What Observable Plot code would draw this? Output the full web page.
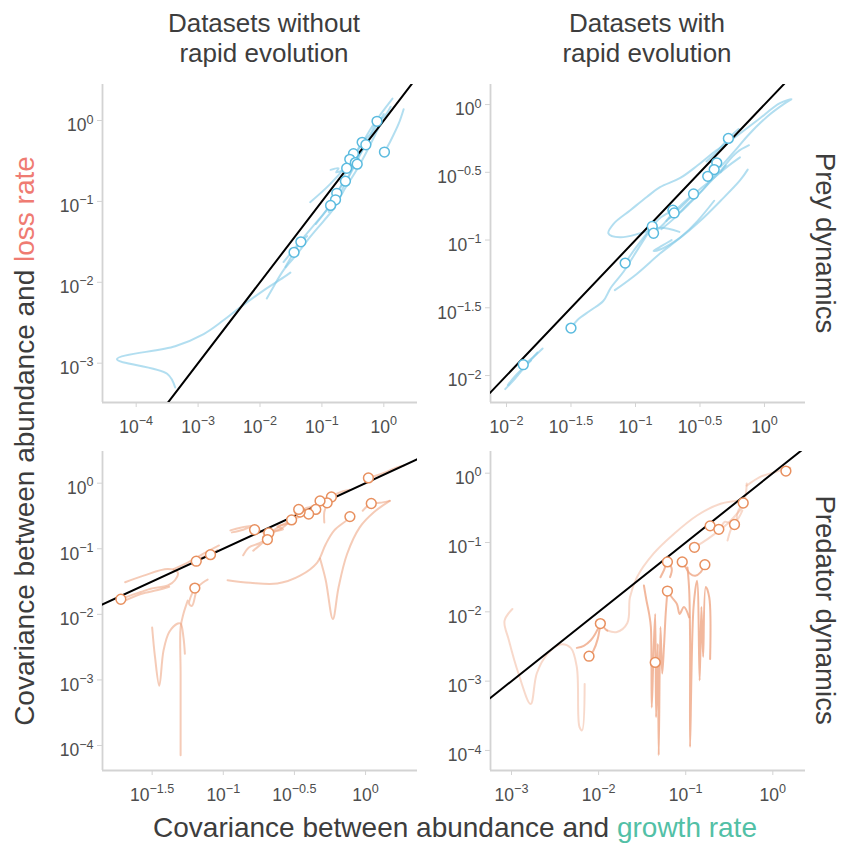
<!DOCTYPE html>
<html><head><meta charset="utf-8">
<script src="https://cdn.jsdelivr.net/npm/d3@7"></script>
<script src="https://cdn.jsdelivr.net/npm/@observablehq/plot@0.6"></script>
<style>
body{margin:0;background:#fff;}
#chart{position:relative;width:844px;height:844px;background:#fff;font-family:"Liberation Sans",Helvetica,Arial,sans-serif;}
#chart svg{position:absolute;left:0;top:0;}
</style></head><body><div id="chart"></div>
<script>
// ---- DATA (log10 values) ----
const oneToOne = [[-6, -6], [2, 2]];

// Prey dynamics, datasets without rapid evolution
const preyNoEvoPaths = [
  [[-3.37,-3.30],[-3.50,-3.13],[-4.31,-2.95],[-3.37,-2.79],[-2.91,-2.64],[-2.59,-2.47],[-2.32,-2.31],[-1.94,-2.10],[-1.62,-1.94],[-1.51,-1.88]],
  [[-1.19,-1.01],[-0.86,-0.78],[-0.49,-0.45],[-0.16,-0.04],[0.14,0.27]],
  [[0.01,-0.39],[0.11,-0.25],[0.24,-0.04],[0.32,0.14]],
  [[-1.89,-2.20],[-1.80,-2.08],[-1.62,-1.85],[-1.40,-1.65],[-1.19,-1.44],[-0.97,-1.24],[-0.81,-1.09],[-0.65,-0.87],[-0.43,-0.60],[-0.24,-0.33],[-0.08,-0.08]],
  [[-1.62,-1.75],[-1.29,-1.44],[-0.97,-1.15],[-0.75,-0.95],[-0.54,-0.66],[-0.32,-0.33],[-0.16,-0.12],[0,0.08]],
  [[-0.86,-0.61],[-0.73,-0.59],[-0.77,-0.64],[-0.62,-0.60]],
  [[-1.59,-1.81],[-1.45,-1.63],[-1.34,-1.50],[-1.24,-1.43]],
  [[-0.89,-1.13],[-0.78,-0.98],[-0.77,-0.90],[-0.70,-0.82],[-0.65,-0.70]],
  [[-0.43,-0.37],[-0.35,-0.27],[-0.22,-0.17],[-0.11,-0.01],[0,0.04],[0.11,0.17]],
  [[-1.10,-1.28],[-0.92,-1.10],[-0.75,-0.88],[-0.58,-0.70],[-0.45,-0.50],[-0.30,-0.30]],
  [[-0.70,-0.75],[-0.60,-0.62],[-0.50,-0.50],[-0.38,-0.40],[-0.28,-0.30]]
];
const preyNoEvoPoints = [[-0.11,-0.01],[-0.35,-0.27],[-0.29,-0.30],[0.01,-0.39],[-0.49,-0.41],[-0.55,-0.48],[-0.46,-0.52],[-0.43,-0.54],[-0.60,-0.59],[-0.62,-0.75],[-0.76,-0.90],[-0.78,-0.98],[-0.86,-1.05],[-1.34,-1.50],[-1.45,-1.63]];

// Prey dynamics, datasets with rapid evolution
const preyEvoPaths = [
  [[-0.66,-0.94],[-0.81,-0.91],[-0.96,-0.95],[-1.12,-0.98],[-1.21,-0.95],[-1.17,-0.88],[-1.04,-0.78],[-0.91,-0.68],[-0.81,-0.61],[-0.65,-0.54],[-0.52,-0.45],[-0.39,-0.35],[-0.24,-0.25],[-0.06,-0.12],[0.12,0.01],[0.21,0.04],[0.16,0.01],[0.02,-0.09],[-0.13,-0.23],[-0.21,-0.32],[-0.34,-0.46]],
  [[-0.72,-1.00],[-0.79,-1.04],[-0.86,-1.08],[-0.81,-1.07],[-0.65,-0.98],[-0.50,-0.86],[-0.34,-0.71],[-0.19,-0.56],[-0.13,-0.48]],
  [[-1.16,-1.37],[-0.99,-1.25],[-0.81,-1.10],[-0.65,-0.98],[-0.52,-0.86],[-0.39,-0.71]],
  [[-1.50,-1.65],[-1.45,-1.59],[-1.35,-1.52],[-1.25,-1.45],[-1.19,-1.35],[-1.09,-1.23],[-0.99,-1.08],[-0.87,-0.90]],
  [[-2.01,-2.10],[-1.94,-2.03],[-1.87,-1.95],[-1.76,-1.83]],
  [[-1.99,-2.07],[-1.92,-1.99],[-1.81,-1.89]],
  [[-0.12,-0.30],[-0.21,-0.35],[-0.29,-0.43],[-0.34,-0.50]],
  [[-0.76,-0.86],[-0.65,-0.76],[-0.52,-0.64],[-0.39,-0.54],[-0.29,-0.46],[-0.19,-0.39]],
  [[-1.08,-1.17],[-1.00,-1.06],[-0.92,-0.96],[-0.87,-0.90],[-0.80,-0.83],[-0.70,-0.78]],
  [[-0.86,-0.95],[-0.78,-0.88],[-0.71,-0.80],[-0.60,-0.70],[-0.55,-0.66]],
  [[-0.80,-0.92],[-0.70,-0.84],[-0.60,-0.74],[-0.50,-0.65],[-0.40,-0.55],[-0.30,-0.45]],
  [[-0.74,-0.84],[-0.66,-0.80],[-0.57,-0.72],[-0.47,-0.62],[-0.37,-0.50]],
  [[-0.45,-0.42],[-0.37,-0.35],[-0.28,-0.25],[-0.20,-0.18]],
  [[-1.87,-1.92],[-1.80,-1.87],[-1.72,-1.80]]
];
const preyEvoPoints = [[-0.28,-0.25],[-0.37,-0.43],[-0.39,-0.48],[-0.44,-0.53],[-0.55,-0.66],[-0.71,-0.78],[-0.70,-0.80],[-0.87,-0.90],[-0.86,-0.95],[-1.08,-1.17],[-1.50,-1.65],[-1.87,-1.92]];

// Predator dynamics, datasets without rapid evolution
const predNoEvoPaths = [
  [[-0.97,-1.48],[-0.81,-1.52],[-0.62,-1.53],[-0.46,-1.41],[-0.34,-1.21],[-0.28,-0.93],[-0.22,-0.72],[-0.13,-0.56],[-0.11,-0.51]],
  [[-0.32,-1.15],[-0.28,-1.48],[-0.23,-2.07],[-0.19,-1.59],[-0.13,-1.08],[-0.04,-0.67],[0.06,-0.44],[0.17,-0.27]],
  [[-0.02,-0.42],[0.04,-0.31],[0.10,-0.30],[0.17,-0.27]],
  [[-1.20,-1.60],[-1.23,-1.74],[-1.24,-1.84],[-1.22,-1.87],[-1.18,-1.59],[-1.14,-1.51],[-1.11,-1.47]],
  [[-1.30,-4.15],[-1.30,-2.91],[-1.30,-2.20],[-1.28,-1.99],[-1.25,-1.79]],
  [[-1.50,-2.20],[-1.48,-2.65],[-1.45,-3.09],[-1.42,-2.55],[-1.38,-2.27],[-1.32,-2.14],[-1.30,-2.14],[-1.28,-2.35],[-1.27,-2.60]],
  [[-1.69,-1.51],[-1.56,-1.41],[-1.39,-1.31],[-1.32,-1.36],[-1.34,-1.48],[-1.39,-1.56],[-1.51,-1.61],[-1.58,-1.66],[-1.65,-1.71],[-1.72,-1.77]],
  [[-1.71,-1.81],[-1.58,-1.69],[-1.46,-1.63],[-1.38,-1.58]],
  [[-1.35,-1.31],[-1.25,-1.21],[-1.16,-1.10],[-1.03,-0.95]],
  [[-0.95,-0.72],[-0.88,-0.68],[-0.80,-0.65],[-0.86,-0.71],[-0.94,-0.75]],
  [[-0.86,-1.10],[-0.82,-0.98],[-0.75,-0.92],[-0.70,-0.86],[-0.79,-1.03]],
  [[-0.72,-0.82],[-0.62,-0.68],[-0.53,-0.57],[-0.43,-0.48],[-0.29,-0.29],[-0.19,-0.15],[-0.11,-0.10]],
  [[0.02,0.08],[0.11,0.14],[0.22,0.24],[0.27,0.27]],
  [[-0.27,-0.32],[-0.29,-0.44],[-0.29,-0.60]],
  [[-1.19,-1.19],[-1.14,-1.12],[-1.09,-1.09],[-1.04,-1.02]],
  [[-0.78,-0.71],[-0.72,-0.75],[-0.69,-0.86],[-0.67,-0.76],[-0.60,-0.70],[-0.52,-0.56]],
  [[-0.70,-0.80],[-0.64,-0.74],[-0.58,-0.70],[-0.62,-0.66],[-0.55,-0.62],[-0.50,-0.58]],
  [[-0.47,-0.44],[-0.42,-0.38],[-0.38,-0.36],[-0.33,-0.30],[-0.28,-0.24]]
];
const predNoEvoPoints = [[0.02,0.08],[0.04,-0.31],[-0.11,-0.51],[-0.24,-0.21],[-0.27,-0.30],[-0.32,-0.27],[-0.35,-0.40],[-0.40,-0.47],[-0.46,-0.44],[-0.47,-0.40],[-0.52,-0.56],[-0.68,-0.76],[-0.69,-0.86],[-0.78,-0.71],[-1.09,-1.09],[-1.19,-1.19],[-1.20,-1.60],[-1.72,-1.77]];

// Predator dynamics, datasets with rapid evolution
const predEvoArcs = [
  [[-2.99,-1.96],[-3.08,-2.13],[-3.03,-2.41],[-2.92,-2.89],[-2.78,-3.33],[-2.71,-2.89],[-2.59,-2.61],[-2.44,-2.47],[-2.32,-2.52],[-2.25,-2.80],[-2.22,-3.66],[-2.19,-3.71],[-2.16,-3.04]],
  [[-1.90,-2.27],[-1.79,-2.29],[-1.67,-2.16],[-1.64,-1.79],[-1.56,-1.50],[-1.37,-1.16],[-1.14,-0.88],[-0.87,-0.61],[-0.60,-0.44],[-0.34,-0.39]],
  [[-0.30,-0.18],[-0.14,-0.05],[0.01,0.01],[0.20,0.08]],
  [[-0.90,-1.07],[-0.75,-0.95],[-0.64,-0.85],[-0.52,-0.73],[-0.43,-0.61],[-0.35,-0.49],[-0.31,-0.30],[-0.30,-0.15]],
  [[-0.52,-0.97],[-0.47,-0.78],[-0.39,-0.64],[-0.35,-0.54]],
  [[-0.72,-0.76],[-0.62,-0.81],[-0.55,-0.70],[-0.44,-0.74],[-0.40,-0.55],[-0.34,-0.43]],
  [[0.10,0.06],[0.15,0.03],[0.20,0.06],[0.18,0.01]]
];
const predEvoSpikes = [
  [[-1.98,-2.17],[-1.92,-2.25],[-1.90,-2.27]],
  [[-1.48,-1.62],[-1.45,-1.84],[-1.42,-2.03],[-1.40,-2.22],[-1.39,-3.38],[-1.37,-2.61],[-1.35,-2.03],[-1.34,-3.52],[-1.32,-2.46],[-1.31,-4.07],[-1.29,-2.22],[-1.27,-2.89],[-1.25,-2.51],[-1.23,-2.03],[-1.21,-1.70]],
  [[-1.21,-1.70],[-1.16,-1.79],[-1.10,-1.89],[-1.07,-2.03],[-1.02,-1.93],[-0.96,-2.08]],
  [[-0.98,-1.36],[-0.96,-1.69],[-0.95,-2.41],[-0.95,-3.95],[-0.91,-1.93],[-0.87,-1.55],[-0.84,-2.99],[-0.82,-1.93],[-0.80,-2.65],[-0.77,-1.64],[-0.73,-1.79],[-0.72,-2.68]],
  [[-1.04,-1.28],[-1.00,-1.36],[-0.95,-1.45],[-0.89,-1.48],[-0.83,-1.43],[-0.78,-1.32]],
  [[-1.29,-1.50],[-1.25,-1.40],[-1.21,-1.28],[-1.16,-1.38],[-1.18,-1.50]],
  [[-2.25,-2.52],[-2.17,-2.49],[-2.09,-2.41],[-2.04,-2.32],[-1.98,-2.17]],
  [[-2.11,-2.64],[-2.06,-2.56],[-2.01,-2.39],[-1.98,-2.17]]
];
const predEvoPoints = [[0.15,0.03],[-0.34,-0.43],[-0.72,-0.76],[-0.62,-0.81],[-0.44,-0.74],[-0.90,-1.07],[-1.21,-1.28],[-1.04,-1.28],[-0.78,-1.32],[-1.21,-1.70],[-1.98,-2.17],[-2.11,-2.64],[-1.35,-2.73]];

// tick exponents and axis ranges (log10)
const ticksTL = {x: [-4,-3,-2,-1,0], y: [0,-1,-2,-3]};
const ticksTR = {x: [-2,-1.5,-1,-0.5,0], y: [0,-0.5,-1,-1.5,-2]};
const ticksBL = {x: [-1.5,-1,-0.5,0], y: [0,-1,-2,-3,-4]};
const ticksBR = {x: [-3,-2,-1,0], y: [0,-1,-2,-3,-4]};
const rangeTL = {x: [-4.544, 0.544], y: [-3.486, 0.445]};
const rangeTR = {x: [-2.124, 0.318], y: [-2.199, 0.148]};
const rangeBL = {x: [-1.849, 0.365], y: [-4.381, 0.483]};
const rangeBR = {x: [-3.241, 0.375], y: [-4.289, 0.313]};

const titles = {col1: ["Datasets without", "rapid evolution"], col2: ["Datasets with", "rapid evolution"], row1: "Prey dynamics", row2: "Predator dynamics"};

// ---- drawing ----
const FONT = '"Liberation Sans", Helvetica, Arial, sans-serif';
const W = 844, H = 844;
const pow = e => Math.pow(10, e);
const fmt = v => { const e = Math.round(Math.log10(v) * 10) / 10; return "10^" + (e < 0 ? "\u2212" + (-e) : String(e)); };
const toRows = groups => groups.flatMap((p, i) => p.map(([x, y]) => ({id: i, x: pow(x), y: pow(y)})));
const toPts = pts => pts.map(([x, y]) => ({x: pow(x), y: pow(y)}));

function superscripts(svg, yShift) {
  d3.select(svg).selectAll('g[aria-label$="tick label"] text').each(function () {
    const t = this.textContent;
    if (!t.includes("^")) return;
    const [b, e] = t.split("^");
    const isY = this.parentNode.getAttribute("aria-label").startsWith("y");
    const s = d3.select(this);
    s.text(null);
    s.append("tspan").attr("dy", isY ? yShift : "0em").text(b);
    s.append("tspan").attr("dy", "-0.62em").attr("font-size", "0.72em").text(e);
  });
}

function panel(box, range, ticks, layers, pts, ptColor) {
  const marks = [
    Plot.ruleX([pow(range.x[0])], {stroke: "#d3d3d3", strokeWidth: 1.8}),
    Plot.ruleY([pow(range.y[0])], {stroke: "#d3d3d3", strokeWidth: 1.8}),
    Plot.axisX({ticks: ticks.x.map(pow), tickFormat: fmt, tickSize: 5, tickPadding: 13, stroke: "#d3d3d3", fill: "#4d4d4d", label: null}),
    Plot.axisY({ticks: ticks.y.map(pow), tickFormat: fmt, tickSize: 5, tickPadding: 4, stroke: "#d3d3d3", fill: "#4d4d4d", label: null})
  ];
  for (const L of layers) {
    marks.push(Plot.line(toRows(L.paths), {x: "x", y: "y", z: "id", stroke: L.color, strokeOpacity: L.opacity, strokeWidth: 2, curve: "catmull-rom", clip: true}));
  }
  marks.push(Plot.line(oneToOne, {x: d => pow(d[0]), y: d => pow(d[1]), stroke: "black", strokeWidth: 2, clip: true}));
  marks.push(Plot.dot(toPts(pts), {x: "x", y: "y", r: 4.9, stroke: ptColor, strokeWidth: 1.5, fill: "white"}));
  const svg = Plot.plot({
    width: W, height: H,
    marginLeft: box[0], marginRight: W - box[1], marginTop: box[2], marginBottom: H - box[3],
    style: {background: "transparent", fontFamily: FONT, fontSize: "17.5px", overflow: "visible"},
    x: {type: "log", domain: range.x.map(pow)},
    y: {type: "log", domain: range.y.map(pow)},
    marks
  });
  superscripts(svg, "0.3em");
  svg.style.background = "transparent";
  return svg;
}

const chart = document.getElementById("chart");
const BLUE_LINE = "#7fc8e6", BLUE_PT = "#5bbbdf", ORANGE_LINE = "#eda07c", ORANGE_PT = "#e8905f";

chart.append(panel([102, 417, 84, 402], rangeTL, ticksTL, [{paths: preyNoEvoPaths, color: BLUE_LINE, opacity: 0.6}], preyNoEvoPoints, BLUE_PT));
chart.append(panel([490, 805, 84, 402], rangeTR, ticksTR, [{paths: preyEvoPaths, color: BLUE_LINE, opacity: 0.6}], preyEvoPoints, BLUE_PT));
chart.append(panel([102, 417, 451, 770], rangeBL, ticksBL, [{paths: predNoEvoPaths, color: ORANGE_LINE, opacity: 0.55}], predNoEvoPoints, ORANGE_PT));
chart.append(panel([490, 805, 451, 770], rangeBR, ticksBR, [{paths: predEvoArcs, color: ORANGE_LINE, opacity: 0.4}, {paths: predEvoSpikes, color: ORANGE_LINE, opacity: 0.75}], predEvoPoints, ORANGE_PT));

// titles
const t = d3.create("svg").attr("width", W).attr("height", H).style("font-family", FONT).style("overflow", "visible");
const tc = "#3d3d3d";
function twoLine(x, lines) {
  const g = t.append("text").attr("text-anchor", "middle").attr("fill", tc).attr("font-size", 26);
  g.append("tspan").attr("x", x).attr("y", 32).text(lines[0]);
  g.append("tspan").attr("x", x).attr("y", 62).text(lines[1]);
}
twoLine(264, titles.col1);
twoLine(647, titles.col2);
t.append("text").attr("transform", "translate(816,243) rotate(90)").attr("text-anchor", "middle").attr("fill", tc).attr("font-size", 27.5).text(titles.row1);
t.append("text").attr("transform", "translate(816,610) rotate(90)").attr("text-anchor", "middle").attr("fill", tc).attr("font-size", 27.5).text(titles.row2);
const yl = t.append("text").attr("transform", "translate(34,441) rotate(-90)").attr("text-anchor", "middle").attr("fill", tc).attr("font-size", 28);
yl.append("tspan").text("Covariance between abundance and ");
yl.append("tspan").attr("fill", "#ef7b72").text("loss rate");
const xl = t.append("text").attr("transform", "translate(455,837)").attr("text-anchor", "middle").attr("fill", tc).attr("font-size", 28);
xl.append("tspan").text("Covariance between abundance and ");
xl.append("tspan").attr("fill", "#52c0a6").text("growth rate");
chart.append(t.node());
</script></body></html>
